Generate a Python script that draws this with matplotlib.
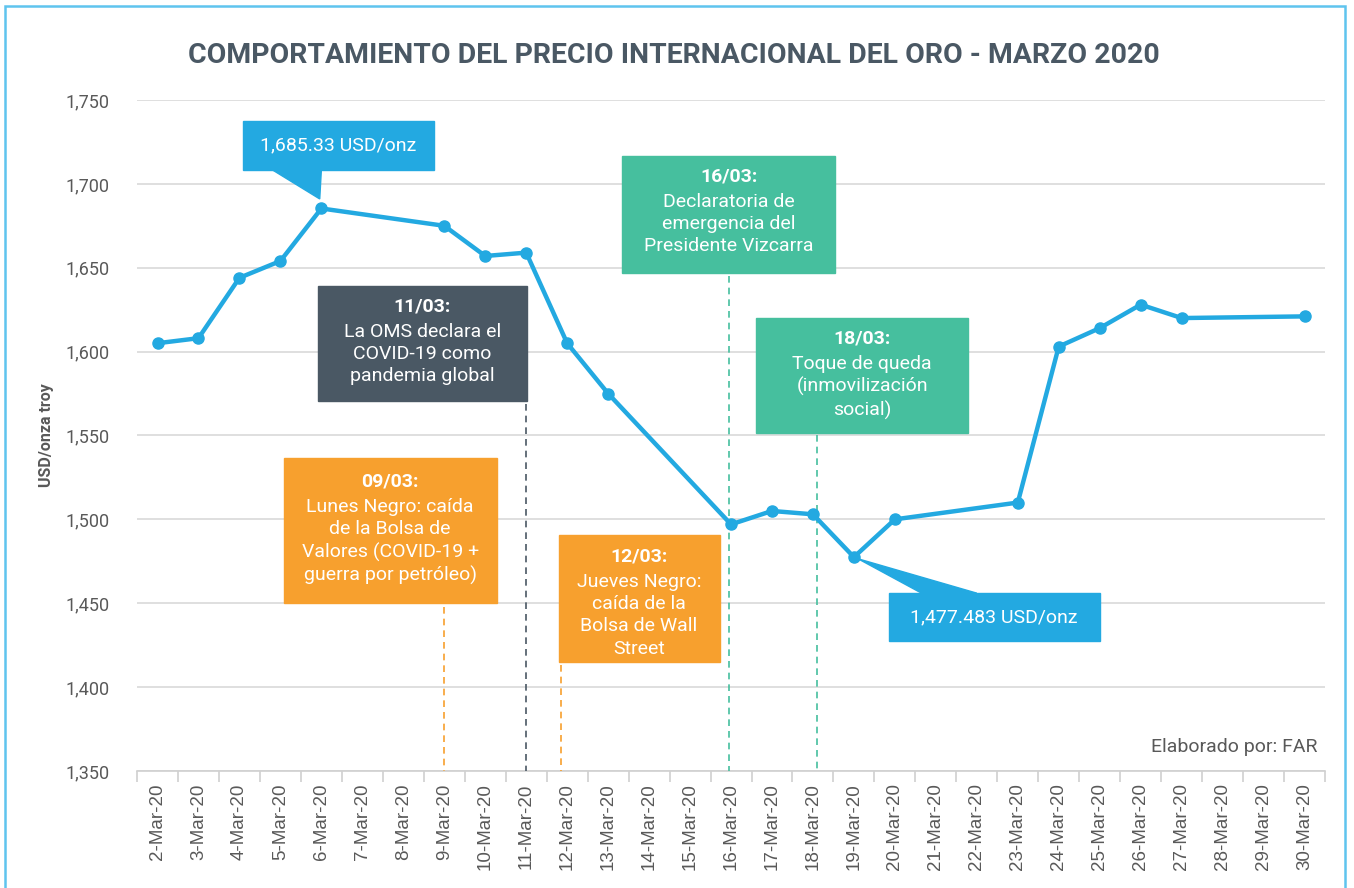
# precio internacional del oro - marzo 2020
import numpy as np
import matplotlib.pyplot as plt
from matplotlib.patches import Rectangle, Polygon

plt.rcParams['font.family'] = ['Roboto', 'DejaVu Sans']

dates = [f"{d}-Mar-20" for d in range(2, 31)]
trade_days = ["2-Mar-20", "3-Mar-20", "4-Mar-20", "5-Mar-20", "6-Mar-20",
              "9-Mar-20", "10-Mar-20", "11-Mar-20", "12-Mar-20", "13-Mar-20",
              "16-Mar-20", "17-Mar-20", "18-Mar-20", "19-Mar-20", "20-Mar-20",
              "23-Mar-20", "24-Mar-20", "25-Mar-20", "26-Mar-20", "27-Mar-20",
              "30-Mar-20"]
price = [1605, 1608, 1644, 1654, 1685.33,
         1675, 1657, 1659, 1605, 1575,
         1497, 1505, 1503, 1477.483, 1500,
         1510, 1603, 1614, 1628, 1620,
         1621]
yticks = [1350, 1400, 1450, 1500, 1550, 1600, 1650, 1700, 1750]

BLUE = "#23a9e1"
GREEN = "#46bf9e"
ORANGE = "#f7a02e"
DARK = "#4a5864"
GRAY = "#595959"
FS = 14

fig = plt.figure(figsize=[13.54, 8.88], dpi=100)
ax = fig.add_axes([0.1012, 0.1318, 0.8774, 0.7556])

xi = [dates.index(d) for d in trade_days]
ax.plot(xi, price, '-o', color=BLUE, lw=3.2, ms=8, zorder=5)

ax.set_xlim(-0.5, len(dates) - 0.5)
ax.set_ylim(1350, 1750)
ax.set_yticks(yticks)
ax.set_yticklabels([f"{v:,}" for v in yticks], fontsize=13, color=GRAY)
ax.tick_params(axis='y', length=0, pad=20)
ax.grid(axis='y', color='#d9d9d9', lw=1.2)
ax.set_axisbelow(True)

ax.set_xticks(range(len(dates)))
ax.set_xticklabels(dates, rotation=90, fontsize=13.5, color=GRAY,
                   family=['Liberation Sans', 'DejaVu Sans'])
ax.set_xticks(np.arange(-0.5, len(dates)), minor=True)
ax.tick_params(axis='x', which='major', length=0, pad=9)
ax.tick_params(axis='x', which='minor', length=8, color='#d0d0d0', width=1.2)

for s in ['top', 'right', 'left']:
    ax.spines[s].set_visible(False)
ax.spines['bottom'].set_color('#d0d0d0')
ax.spines['bottom'].set_linewidth(1.2)

ax.set_ylabel("USD/onza troy", fontsize=11.5, fontweight='bold', color=GRAY, labelpad=8)


def box(x0, x1, y0, y1, color, head, body, line_x=None, line_top=None):
    ax.add_patch(Rectangle((x0, y0), x1 - x0, y1 - y0, color=color, zorder=6))
    ytop = y1 - (y1 - y0) * 0.1
    xc = (x0 + x1) / 2
    ax.text(xc, ytop, head, ha='center', va='top', color='white', fontsize=FS,
            fontweight='bold', zorder=7)
    ax.annotate(body, (xc, ytop), xytext=(0, -FS * 1.3), textcoords='offset points',
                ha='center', va='top', color='white', fontsize=FS,
                linespacing=1.3, zorder=7)
    if line_x is not None:
        ax.plot([line_x, line_x], [line_top, 1350], ls=(0, (4, 3)), color=color,
                lw=1.2, zorder=4)


box(3.91, 9.03, 1570.6, 1639.1, DARK, "11/03:",
    "La OMS declara el\nCOVID-19 como\npandemia global", 9.0, 1569)
box(11.35, 16.53, 1646.9, 1716.6, GREEN, "16/03:",
    "Declaratoria de\nemergencia del\nPresidente Vizcarra", 13.96, 1645)
box(14.62, 19.78, 1551.5, 1620.0, GREEN, "18/03:",
    "Toque de queda\n(inmovilización\nsocial)", 16.09, 1550)
box(3.08, 8.28, 1450.1, 1536.6, ORANGE, "09/03:",
    "Lunes Negro: caída\nde la Bolsa de\nValores (COVID-19 +\nguerra por petróleo)", 7.0, 1448)
box(9.79, 13.72, 1415.0, 1490.7, ORANGE, "12/03:",
    "Jueves Negro:\ncaída de la\nBolsa de Wall\nStreet", 9.86, 1413)

# callouts max / min
ax.add_patch(Rectangle((2.08, 1708.3), 4.68, 29.2, color=BLUE, zorder=6))
ax.add_patch(Polygon([(2.8, 1708.4), (4.0, 1708.4), (3.96, 1691)], color=BLUE, zorder=6))
ax.text(4.42, 1722.9, "1,685.33 USD/onz", ha='center', va='center', color='white',
        fontsize=FS, zorder=7)

ax.add_patch(Rectangle((17.85, 1427.5), 5.15, 28.6, color=BLUE, zorder=6))
ax.add_patch(Polygon([(18.65, 1456.0), (20.0, 1456.0), (17.1, 1476.5)], color=BLUE, zorder=6))
ax.text(20.42, 1441.8, "1,477.483 USD/onz", ha='center', va='center', color='white',
        fontsize=FS, zorder=7)

ax.text(0.994, 0.036, "Elaborado por: FAR", transform=ax.transAxes, ha='right',
        va='center', fontsize=14, color=GRAY)

fig.text(0.498, 0.938, "COMPORTAMIENTO DEL PRECIO INTERNACIONAL DEL ORO - MARZO 2020",
         ha='center', va='center', fontsize=20.4, fontweight='bold', color=DARK)

fig.patches.append(Rectangle((5 / 1354, -0.1), 1340 / 1354, 1.1 - 6 / 888,
                             transform=fig.transFigure, fill=False,
                             edgecolor='#5fc4ee', lw=1.8))

plt.savefig("out.png", dpi=100)
